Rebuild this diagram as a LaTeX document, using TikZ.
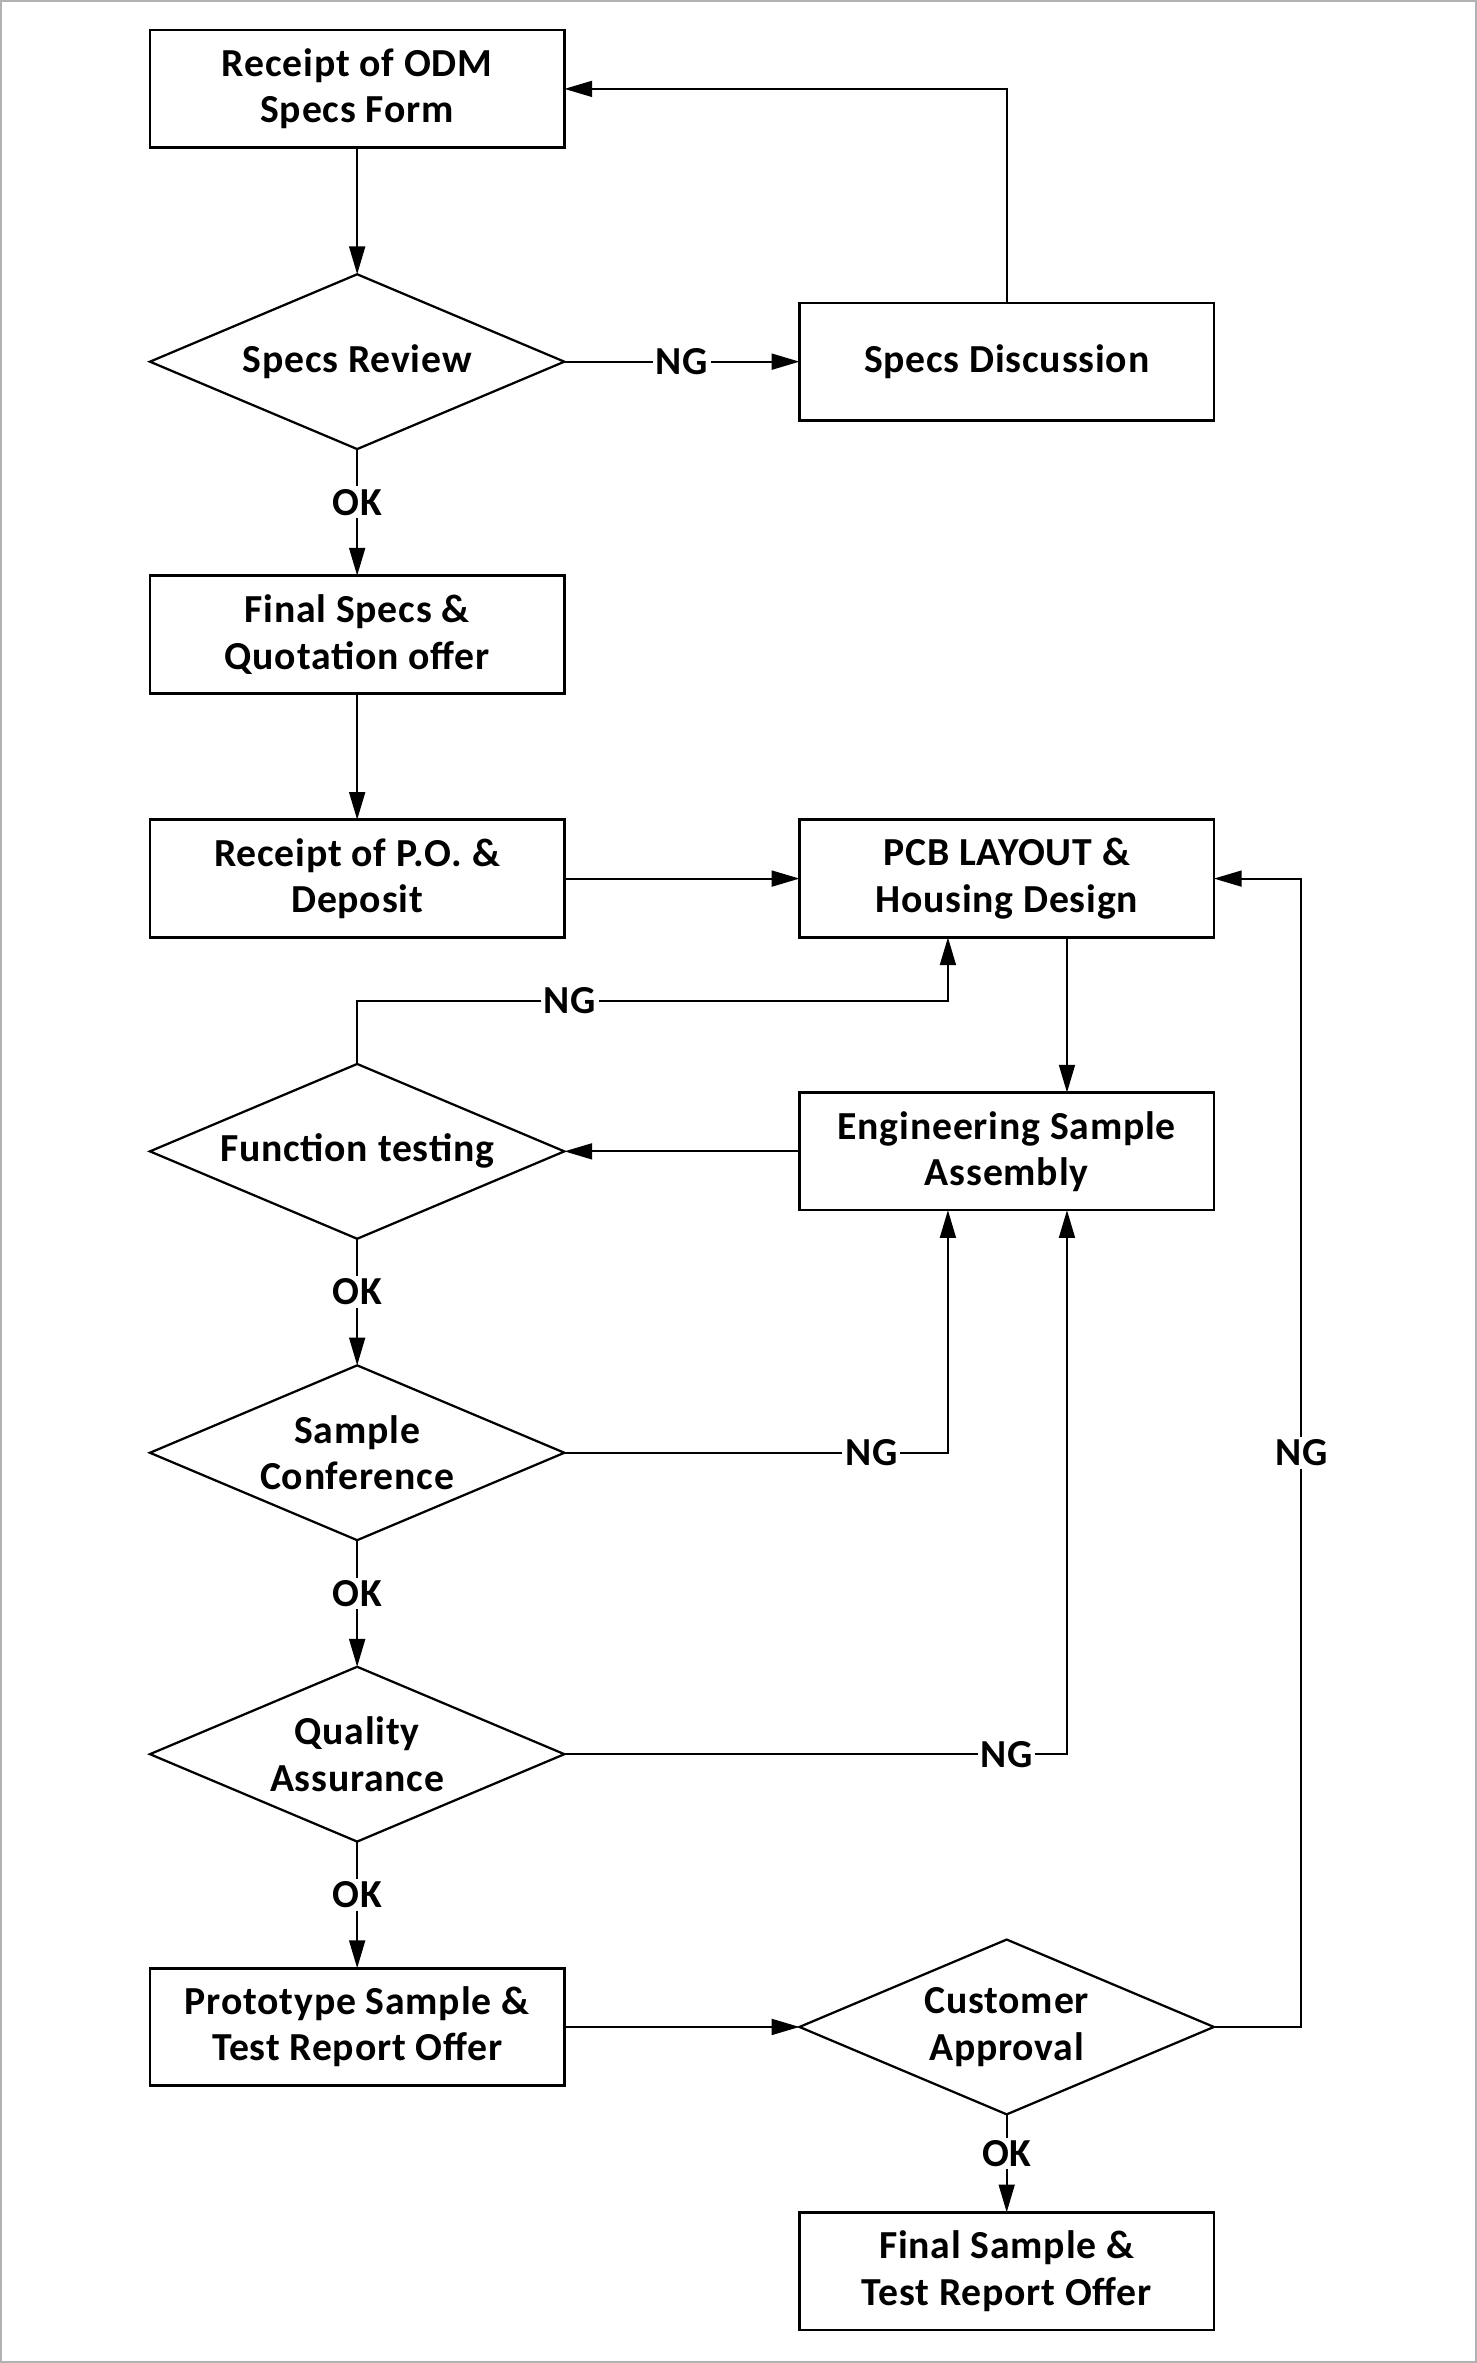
\documentclass[tikz,border=0pt]{standalone}
\usepackage{fontspec}
\setmainfont{Carlito}[LetterSpace=2]
\usetikzlibrary{shapes.geometric,chains,arrows.meta,positioning}
\newcommand{\flowfont}{\fontsize{15}{17.5}\selectfont\bfseries}
\tikzset{box/.style={draw, line width=1pt, rectangle, minimum width=5.5cm, minimum height=1.56cm, inner sep=2pt, outer sep=0pt, align=center, font=\flowfont},
  decision/.style={draw, line width=0.85pt, diamond, aspect=2.37, minimum width=5.5cm, minimum height=2.32cm, inner sep=0pt, outer sep=0pt, align=center, font=\flowfont},
  flow/.style={line width=0.8pt, -{Triangle[length=10.5pt,width=6pt]}},
  tag/.style={fill=white, inner sep=1pt, font=\flowfont},
  start chain=going below, node distance=1.68cm}

\begin{document}
\begin{tikzpicture}
    \useasboundingbox (0,0) rectangle (19.6,-31.36);
    \draw[gray!60, line width=0.6pt] (0.01,-0.01) rectangle (19.59,-31.35);
    % left column
    \node[box,on chain] (odm) at (4.74,-1.18) {Receipt of ODM\\Specs Form};
    \node[decision,on chain] (review) {Specs Review};
    \node[box,on chain] (quote) {Final Specs \&\\Quotation offer};
    \node[box,on chain] (po) {Receipt of P.O. \&\\Deposit};
    \node[decision,on chain] (func) {Function testing};
    \node[decision,on chain] (conf) {Sample\\Conference};
    \node[decision,on chain] (qa) {Quality\\Assurance};
    \node[box,on chain] (proto) {Prototype Sample \&\\Test Report Offer};
    % right column
    \node[box,right=3.12cm of review] (disc) {Specs Discussion};
    \node[box,right=3.12cm of po] (pcb) {PCB LAYOUT \&\\Housing Design};
    \node[box,right=3.12cm of func] (eng) {Engineering Sample\\Assembly};
    \node[decision,right=3.12cm of proto] (appr) {Customer\\Approval};
    \node[box,below=1.3cm of appr] (fin) {Final Sample \&\\Test Report Offer};
    % connectors
    \draw[flow] (odm) -- (review);
    \draw[flow] (review) -- node[tag]{NG} (disc);
    \draw[flow] (disc.north) |- (odm.east);
    \draw[flow] (review) -- node[tag,pos=0.42]{OK} (quote);
    \draw[flow] (quote) -- (po);
    \draw[flow] (po) -- (pcb);
    \draw[flow] ([xshift=0.8cm]pcb.south) -- ([xshift=0.8cm]eng.north);
    \draw[flow] (eng) -- (func);
    \draw[flow] (func.north) -- ++(0,0.84) -| node[tag,pos=0.18]{NG} ([xshift=-0.78cm]pcb.south);
    \draw[flow] (func) -- node[tag,pos=0.42]{OK} (conf);
    \draw[flow] (conf.east) -| node[tag,pos=0.4]{NG} ([xshift=-0.78cm]eng.south);
    \draw[flow] (conf) -- node[tag,pos=0.42]{OK} (qa);
    \draw[flow] (qa.east) -| node[tag,pos=0.44]{NG} ([xshift=0.8cm]eng.south);
    \draw[flow] (qa) -- node[tag,pos=0.42]{OK} (proto);
    \draw[flow] (proto) -- (appr);
    \draw[flow] (appr.east) -- ++(1.16,0) |- node[tag,pos=0.25]{NG} (pcb.east);
    \draw[flow] (appr) -- node[tag,pos=0.4]{OK} (fin);
\end{tikzpicture}
\end{document}
